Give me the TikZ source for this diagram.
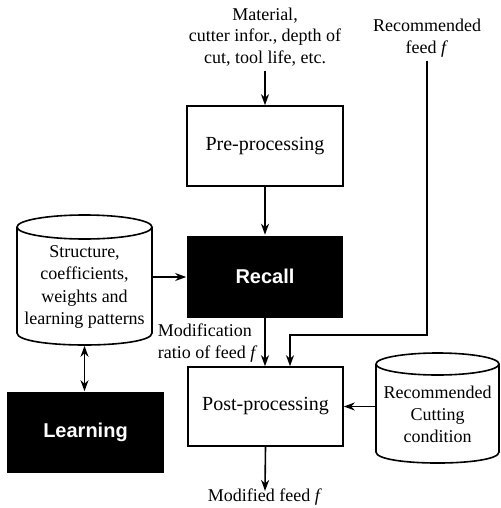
\documentclass[tikz,border=0pt]{standalone}
\usepackage{fontspec}
\setmainfont{Liberation Serif}
\newfontfamily\boldsans{Liberation Sans}
\usetikzlibrary{arrows.meta}
\begin{document}
\begin{tikzpicture}[x=1pt,y=-1pt,line width=1.6pt,
  >={Stealth[length=11pt,width=8pt,inset=3.5pt]},
  txt/.style={font=\fontsize{18}{21.5}\selectfont,align=center,inner sep=0pt},
  wbox/.style={draw,txt,font=\fontsize{20}{24}\selectfont,minimum width=156pt},
  bbox/.style={fill=black,text=white,inner sep=0pt,minimum width=156pt,
    font=\boldsans\bfseries\fontsize{20}{24}\selectfont},
  ghost/.style={draw=none,inner sep=0pt}]
\useasboundingbox (0,0) rectangle (500,508);

% input text
\node[txt] (in) at (265,37) {Material,\\cutter infor., depth of\\cut, tool life, etc.};
\node[txt] (rf) at (427,38) {Recommended\\feed \textit{f}};

% boxes
\node[wbox,minimum height=80pt] (pre) at (265,146) {Pre-processing};
\node[bbox,minimum height=82pt] (recall) at (265,276.5) {Recall};
\node[wbox,minimum height=79pt,minimum width=155pt] (post) at (265.5,406.5) {Post-processing};
\node[bbox,minimum height=81pt,minimum width=157pt] (learn) at (85.5,432.5) {Learning};

% left cylinder
\node[ghost,minimum width=135pt,minimum height=130pt] (db) at (84.5,280) {};
\draw (84.5,227) ellipse [x radius=67.5pt,y radius=12pt];
\draw (17,227) -- (17,333) .. controls (17,349) and (152,349) .. (152,333) -- (152,227);
\node[txt,font=\fontsize{18}{22.5}\selectfont] (dbt) at (84.5,287)
  {Structure,\\coefficients,\\weights and\\learning patterns};

% right cylinder
\node[ghost,minimum width=123pt,minimum height=110pt] (rcc) at (437.5,408) {};
\draw (437.5,364) ellipse [x radius=61.5pt,y radius=11pt];
\draw (376,364) -- (376,452) .. controls (376,466.7) and (499,466.7) .. (499,452) -- (499,364);
\node[txt,font=\fontsize{18}{22}\selectfont] (rcct) at (437.5,414)
  {Recommended\\Cutting\\condition};

% labels
\node[txt,align=left,anchor=west] (mod) at (157,343) {Modification\\ratio of feed \textit{f}};
\node[txt] (out) at (265,497) {Modified feed \textit{f}};

% connectors
\coordinate (bend) at (427,335);
\coordinate (j) at (290,335);
\draw[->,shorten <=4pt] (in.south) -- (in.south |- pre.north);
\draw[->] (pre.south) -- (pre.south |- recall.north);
\draw[->] (db.east |- 0,277) -- (recall.west |- 0,277);
\draw[->] (recall.south) -- (recall.south |- post.north);
\draw[->,shorten <=3pt] (rf.south) -- (bend) -- (j) -- (j |- post.north);
\draw[->] (rcc.west |- post.east) -- (post.east);
\draw[<->] (db.south) -- (db.south |- learn.north);
\draw[->] (post.south) -- ([yshift=-3pt]out.north);
\end{tikzpicture}
\end{document}
